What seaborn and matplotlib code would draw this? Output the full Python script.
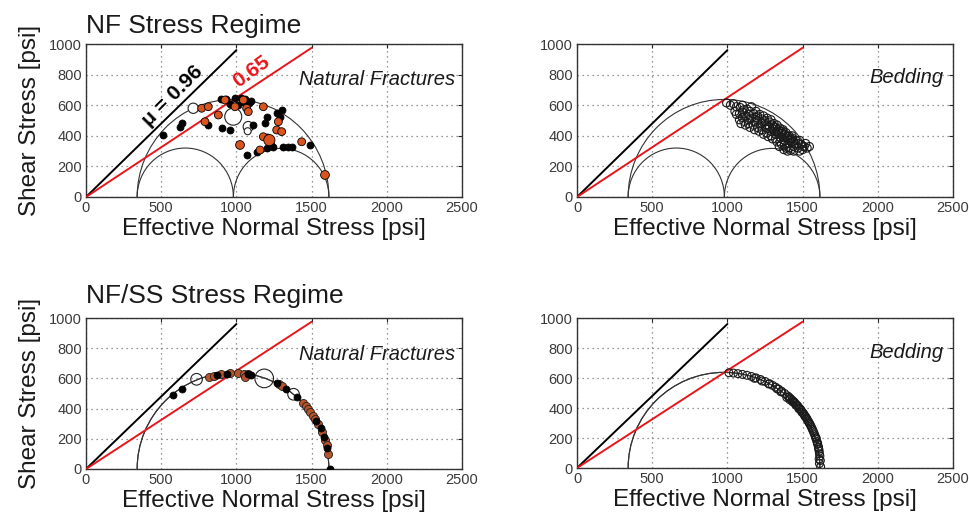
import numpy as np
import pandas as pd
import matplotlib
matplotlib.use("Agg")
import matplotlib.pyplot as plt
from matplotlib.patches import Arc
import seaborn as sns

# ---------------- data ----------------
# principal effective stresses [psi]
nf_sigma = [340, 980, 1615]        # sigma3, sigma2, sigma1 (NF regime)
nfss_sigma = [340, 1615, 1615]     # NF/SS regime (sigma2 ~ sigma1)

# friction lines
mu_values = [0.96, 0.65]
mu_x_end = [1000, 1500]
mu_colors = ["black", "#e8161b"]

# Panel 1: NF regime, natural fractures
p1_black_x = [514, 636, 625, 813, 902, 957, 930, 990, 1030, 1060, 1100, 1201, 1190, 1268, 1301,
              1113, 1201, 1246, 1312, 1367, 1489, 1068, 1135, 1201, 960, 1010, 900, 1050, 1085,
              1290, 1230, 1340]
p1_black_y = [405, 482, 455, 471, 449, 438, 640, 645, 650, 640, 625, 525, 482, 547, 569,
              471, 394, 329, 329, 329, 340, 275, 296, 318, 610, 600, 640, 622, 615,
              520, 340, 325]
p1_orange_x = [769, 813, 880, 991, 1068, 1079, 1179, 1279, 1268, 1179, 1219, 1301, 1434, 1024,
               1157, 1589, 791, 1046, 924]
p1_orange_y = [580, 590, 536, 590, 580, 558, 590, 492, 438, 394, 372, 427, 361, 340,
               307, 144, 492, 634, 634]
p1_orange_s = [32, 32, 32, 32, 32, 32, 32, 32, 32, 32, 65, 32, 32, 40,
               32, 40, 32, 32, 32]
p1_open_x = [713, 979, 1079, 1075]
p1_open_y = [580, 525, 460, 430]
p1_open_s = [55, 150, 55, 25]

# Panel 2: NF regime, bedding
p2_x = [995, 1020, 1040, 1060, 1085, 1100, 1110, 1130, 1150, 1160, 1175, 1190, 1200, 1215, 1230,
        1240, 1250, 1265, 1280, 1290, 1300, 1310, 1320, 1330, 1340, 1350, 1360, 1370, 1380, 1390,
        1400, 1410, 1420, 1430, 1440, 1455, 1470, 1490, 1510, 1530,
        1090, 1120, 1150, 1180, 1210, 1240, 1270, 1300, 1330, 1360, 1390, 1420,
        1060, 1100, 1140, 1180, 1220, 1260, 1290, 1320, 1350, 1380, 1410, 1440,
        1280, 1310, 1340, 1370, 1400, 1430, 1345, 1375, 1400,
        1050, 1080, 1120, 1160, 1200, 1230, 1260, 1300, 1330, 1360, 1390, 1420, 1450, 1470,
        1500, 1480, 1440, 1410, 1380, 1350, 1320, 1290, 1260, 1230, 1200, 1170, 1140, 1110,
        1080, 1100, 1140, 1190, 1250, 1310, 1370, 1430, 1480, 1520, 1545, 1500]
p2_y = [615, 600, 610, 590, 585, 600, 570, 575, 560, 590, 545, 560, 530, 540, 510,
        530, 500, 515, 490, 505, 470, 480, 455, 470, 440, 450, 425, 440, 410, 420,
        395, 400, 380, 385, 365, 370, 350, 345, 330, 320,
        480, 470, 455, 440, 430, 410, 395, 380, 360, 345, 320, 305,
        540, 520, 505, 490, 470, 450, 430, 410, 390, 370, 350, 330,
        460, 440, 420, 400, 380, 360, 330, 310, 300,
        560, 545, 530, 515, 500, 480, 470, 450, 430, 415, 395, 370, 345, 320,
        330, 300, 300, 320, 340, 360, 380, 400, 420, 440, 455, 470, 480, 495,
        505, 555, 540, 520, 490, 460, 430, 400, 370, 350, 330, 310]

# Panel 3: NF/SS regime, natural fractures
p3_black_x = [580, 640, 870, 935, 1080, 1100, 1270, 1330, 1405, 1530, 1560, 1585, 1605, 1620]
p3_black_y = [489, 533, 625, 632, 628, 624, 570, 530, 475, 320, 270, 210, 140, 0]
p3_orange_x = [820, 850, 900, 960, 1010, 1050, 1075, 1060, 1280, 1300, 1440, 1460, 1475, 1490,
               1510, 1525, 1545, 1570, 1590, 1600, 1612]
p3_orange_y = [612, 618, 629, 634, 635, 632, 630, 610, 565, 551, 440, 420, 400, 380,
               350, 330, 300, 247, 193, 160, 100]
p3_open_x = [735, 1185, 1380]
p3_open_y = [594, 600, 495]
p3_open_s = [70, 180, 70]

# Panel 4: NF/SS regime, bedding
p4_x = [1010, 1040, 1070, 1100, 1130, 1160, 1190, 1220, 1250, 1280, 1300, 1320, 1340, 1360, 1380,
        1400, 1410, 1420, 1430, 1440, 1450, 1460, 1470, 1480, 1490, 1500, 1510, 1520, 1530, 1540,
        1550, 1560, 1570, 1580, 1590, 1600, 1605, 1610, 1615, 1618, 1620,
        1445, 1465, 1485, 1505, 1525, 1545, 1565, 1585, 1595, 1608, 1612,
        1395, 1415, 1435, 1455, 1475, 1495, 1515, 1535, 1555, 1575, 1590, 1600, 1606, 1610, 1612,
        1180, 1230, 1275, 1330, 1355]
p4_y = [635, 633, 629, 624, 618, 610, 601, 590, 577, 562, 551, 539, 526, 512, 497,
        481, 472, 463, 453, 443, 432, 421, 410, 398, 385, 371, 357, 342, 326, 308,
        290, 269, 247, 222, 193, 158, 137, 112, 80, 50, 8,
        438, 416, 392, 364, 334, 299, 258, 208, 176, 125, 95,
        470, 455, 440, 420, 395, 372, 345, 315, 280, 235, 200, 165, 140, 60, 30,
        598, 580, 560, 528, 508]

# ---------------- style ----------------
sns.set_style("white")
plt.rcParams["font.family"] = ["Liberation Sans", "DejaVu Sans"]
plt.rcParams["xtick.direction"] = "in"
plt.rcParams["ytick.direction"] = "in"

fig = plt.figure(figsize=(9.69, 5.18), dpi=100)
W, H = 969, 518


def make_ax(left, top, right, bottom):
    return fig.add_axes([left / W, 1 - bottom / H, (right - left) / W, (bottom - top) / H])


axes = [make_ax(86, 44, 462, 197), make_ax(577, 44, 953, 197),
        make_ax(86, 318, 462, 469), make_ax(577, 318, 953, 468)]

tick_color = "#3a3a3a"
for ax in axes:
    ax.set_xlim(0, 2500)
    ax.set_ylim(0, 1000)
    ax.set_xticks([0, 500, 1000, 1500, 2000, 2500])
    ax.set_yticks([0, 200, 400, 600, 800, 1000])
    ax.grid(True, color="#777777", linestyle=(0, (1, 3)), linewidth=0.9)
    ax.tick_params(labelsize=10.5, labelcolor=tick_color, length=3, width=0.8,
                   top=True, right=True, pad=3)
    for sp in ax.spines.values():
        sp.set_color("#333333")
        sp.set_linewidth(1.0)
    ax.set_axisbelow(True)


def draw_circles(ax, sig):
    s3, s2, s1 = sig
    pairs = [(s3, s1), (s3, s2), (s2, s1)]
    for a, b in pairs:
        if b - a <= 0 or (a, b) != (s3, s1) and (b - a) >= (s1 - s3) - 1:
            continue
        arc = Arc(((a + b) / 2, 0), b - a, b - a, theta1=0, theta2=180,
                  color="#333333", lw=0.8, zorder=2)
        ax.add_patch(arc)


def draw_friction(ax):
    for mu, xe, c in zip(mu_values, mu_x_end, mu_colors):
        df = pd.DataFrame({"x": [0, xe], "y": [0, mu * xe]})
        sns.lineplot(data=df, x="x", y="y", ax=ax, color=c, lw=1.4, sort=False, zorder=3)


for ax, sig in zip(axes, [nf_sigma, nf_sigma, nfss_sigma, nfss_sigma]):
    draw_circles(ax, sig)
    draw_friction(ax)

orange = "#d9541e"

# panel 1
ax = axes[0]
sns.scatterplot(x=p1_open_x, y=p1_open_y, size=p1_open_s, sizes=(25, 150), legend=False,
                facecolor="white", edgecolor="#222222", linewidth=0.8, ax=ax, zorder=4)
sns.scatterplot(x=p1_black_x, y=p1_black_y, s=26, color="black", edgecolor="black",
                linewidth=0.5, ax=ax, zorder=5)
sns.scatterplot(x=p1_orange_x, y=p1_orange_y, size=p1_orange_s, sizes=(32, 65), legend=False,
                color=orange, edgecolor="black", linewidth=0.6, ax=ax, zorder=6)

# panel 2
ax = axes[1]
sns.scatterplot(x=p2_x, y=p2_y, s=34, facecolor="none", edgecolor="#1a1a1a",
                linewidth=0.8, ax=ax, zorder=4)

# panel 3
ax = axes[2]
sns.scatterplot(x=p3_open_x, y=p3_open_y, size=p3_open_s, sizes=(70, 180), legend=False,
                facecolor="none", edgecolor="#222222", linewidth=0.8, ax=ax, zorder=4)
sns.scatterplot(x=p3_orange_x, y=p3_orange_y, s=34, color="#b5532a", edgecolor="#222222",
                linewidth=0.6, ax=ax, zorder=5)
sns.scatterplot(x=p3_black_x, y=p3_black_y, s=26, color="black", edgecolor="black",
                linewidth=0.5, ax=ax, zorder=6)

# panel 4
ax = axes[3]
sns.scatterplot(x=p4_x, y=p4_y, s=32, facecolor="none", edgecolor="#1a1a1a",
                linewidth=0.8, ax=ax, zorder=4)

# labels
for i, ax in enumerate(axes):
    ax.set_xlabel("Effective Normal Stress [psi]", fontsize=17.5, labelpad=2, color="#1a1a1a")
    if i in (0, 2):
        ax.set_ylabel("Shear Stress [psi]", fontsize=17.5, labelpad=6, color="#1a1a1a")
    else:
        ax.set_ylabel("")

axes[0].text(2453, 765, "Natural Fractures", style="italic", fontsize=14.5,
             ha="right", va="center", color="#1a1a1a")
axes[2].text(2453, 755, "Natural Fractures", style="italic", fontsize=14.5,
             ha="right", va="center", color="#1a1a1a")
axes[1].text(2434, 778, "Bedding", style="italic", fontsize=14.5,
             ha="right", va="center", color="#1a1a1a")
axes[3].text(2434, 770, "Bedding", style="italic", fontsize=14.5,
             ha="right", va="center", color="#1a1a1a")

axes[0].text(574, 662, "\u03bc = 0.96", fontsize=15, fontweight="bold", rotation=45,
             ha="center", va="center", color="black", rotation_mode="anchor")
axes[0].text(1101, 819, "0.65", fontsize=15, fontweight="bold", rotation=36,
             ha="center", va="center", color="#e8161b", rotation_mode="anchor")

fig.text(86 / W, 1 - 33 / H, "NF Stress Regime", fontsize=19, ha="left", va="baseline",
         color="#1a1a1a")
fig.text(86 / W, 1 - 303 / H, "NF/SS Stress Regime", fontsize=19, ha="left", va="baseline",
         color="#1a1a1a")

fig.savefig("out.png", dpi=100)
